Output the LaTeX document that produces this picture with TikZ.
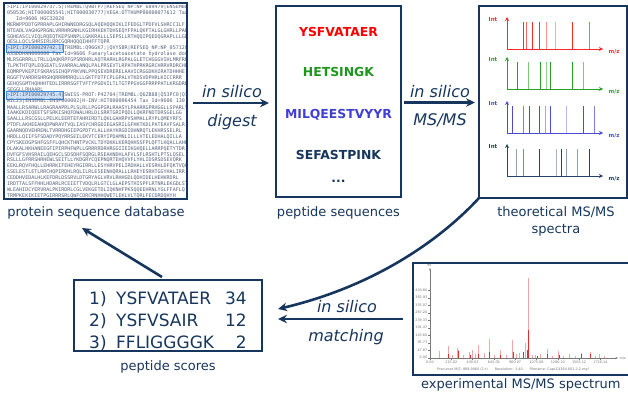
\documentclass[tikz,border=0pt]{standalone}
\usepackage{fontspec}
\setmainfont{DejaVu Sans}
\newfontfamily\seqfont{DejaVu Sans Mono}
\usetikzlibrary{arrows.meta}
\definecolor{navy}{RGB}{23,54,93}
\definecolor{pepred}{RGB}{255,0,0}
\definecolor{pepgreen}{RGB}{30,150,30}
\definecolor{pepblue}{RGB}{64,64,210}
\definecolor{plotred}{RGB}{255,40,40}
\definecolor{plotgreen}{RGB}{40,160,40}
\definecolor{plotblue}{RGB}{75,75,215}
\definecolor{plotnavy}{RGB}{40,65,105}
\definecolor{seqgray}{RGB}{85,98,122}
\definecolor{hlfill}{RGB}{205,225,248}
\definecolor{hldraw}{RGB}{60,140,225}
\definecolor{pkpink}{RGB}{244,165,165}
\definecolor{pkred}{RGB}{225,45,45}
\definecolor{axgray}{RGB}{120,120,120}
\begin{document}
\begin{tikzpicture}[x=1pt,y=-1pt,
  box/.style={draw=navy,line width=2.4pt,fill=white,inner sep=0pt,outer sep=0pt,anchor=north west},
  caption/.style={text=navy,font=\fontsize{13}{17}\selectfont,inner sep=0pt,align=center},
  method/.style={text=navy,font=\fontsize{16}{18}\selectfont\itshape,inner sep=0pt},
  flow/.style={draw=navy,line width=2.6pt,-{Stealth[length=9pt,width=8.5pt]}},
  pep/.style={font=\fontsize{12.4}{14}\selectfont\bfseries,inner sep=0pt},
  score/.style={text=navy,font=\fontsize{17}{20}\selectfont,inner sep=0pt},
  seqline/.style={text=seqgray,font=\seqfont\fontsize{5}{6}\selectfont,inner sep=0pt,anchor=west},
  tinylabel/.style={text=axgray,font=\fontsize{3.4}{4}\selectfont,inner sep=0pt},
  plotlabel/.style={font=\bfseries\fontsize{5.5}{6}\selectfont,inner sep=0pt}
]
\useasboundingbox (0,0) rectangle (628,394);

% ---------- protein sequence database ----------
\node[box,minimum width=183pt,minimum height=196pt] (db) at (4,3) {};
\begin{scope}
  \clip (6,5) rectangle (185,197);
  \filldraw[fill=hlfill,draw=hldraw,line width=0.8pt] (6,44.5) rectangle (63,52.5);
  \filldraw[fill=hlfill,draw=hldraw,line width=0.8pt] (6,91.7) rectangle (63,99.7);
  \foreach \t [count=\i from 0] in {
    >IPI:IPI00029737.5|TREMBL:Q9BTP7|REFSEQ\_NP:NP\_689479|ENSEMBL,
    050536;HIT000005541;HIT000030777|VEGA:OTTHUMP00000077612 Tax,
    \ \ \_Id=9606 HGC32020,
    MERWPPDDTGPRRAPLGHIRWNEDRGSQLAQEHQQKIKLIFEDGLTPDFVLSHRCCILF,
    NTEADLVAGHGPRGNLVRRHRGNHLKGIRHKEKTDHSEQYFPALQKFTALGLGHRLLPAR,
    SQHEASCLVIQLRQEQTKEPSHNPLLGKKRALLLSEPSLLRTHQQIPQEDQGRAPLLLGD,
    QESLLQCLSHRSIRLRRCGQRHQQQIHHFFTQPR,
    >IPI:IPI00029742.1|TREMBL:Q96GK7;|QVYSBR|REFSEQ\_NP:NP\_057120|,
    ASSDDHAN000000 Tax\_Id=9606 Fumarylacetoacetate hydrolase doma,
    MLRSGRRRLLTRLLQAQKRPFGPSRDHRLAQTRARHLRGPALGLETCHGGGVIHLMRFRP,
    TLPKTHTQPLEQGEATLSVARRALANQLPALPRSEVTLRPATHPRKRGRCHRRVRDRCHE,
    EQMRPVKEPIFSKRASSIHQPYRKVNLPPQSEVDRERELAAVICRGGDKHIRATDHHHE,
    RGGFTVARDRSHRGHQRRRMRRQLLLGKTFDTFCPLGPALVTKDSVDPHRLKICCRRR,
    GEHQSGMTHQHHHTEDLIRRRSGFTVFTYPGDVILTLTGTPPGVGGFRRPPATLKRGDRRA,
    SEGGLLRHAARL,
    >IPI:IPI00029745.4|SWISS-PROT:P42704|TREMBL:Q6ZB88|Q53PC0|Q7,
    WIL23|ENSEMBL:ENSP000002|H-INV:HIT000006454 Tax\_Id=9606 130 kDa l,
    MAALLRSARWLLRAGRAAPRLPLSLRLLPGGPGRLRAASYLPAARRGPRHGGLLSPARLYR,
    IAAKEKDIQEETSFSRKISHQFDWALHRLDLSRRTGRIPQDLLQKRFNDTDRSGELGG,
    SAALLLRSCGSLLPELKLEERTEFAHRIRDTLQKLGAHRPVSHMALLRYPLQMEYRFS,
    PTDFLAKHEEAHQDPWRAVTVQLIASYCHRGDIEGASRILGFHKTKDLPATEAVFSALR,
    GAARNQDVEHRENLTVRRDHGIEPGPDTYLALLHAYKRGDIDHNRQTLEKHRSSELRL,
    HRDLLQIIFSFSDADYPQYRRSEILEKVTCERYIPDAMNLILLLVTELEDHALQILLA,
    CPYSKEDGPSHFGSFFLQHCKTHNTPVCKLTDYDKKLKERQHHSSFPLQFTLHQALLAHK,
    DLAKALHKHANEEGFIPIRPHFWPLLGRRRRDRHRGGIIEIKGHQELLARRPQETYTDR,
    DVFGFSVHSRAILQEHGCLSDSDHFSQRGLRSEAHNDHLAFVLSFLRSHTLPTSLQSEL,
    RSLLLGFRRSHRHEWLSEITLLYKDGRYCQEPNQRTEHQVVFLYHLIDSRSDSEVQRK,
    EEKLRQVFHQLLEHRRKIFEHEYRGIRRLLESYHRVPELIRDHALLVESRHLDFQKTVQLT,
    SSELESTLETLRRCHQPIRDHLRQLILRLESEENHQRALLLRHEYESRHTGGYHALIRR,
    CEDDHVEDALHLKEFDRLDSSRVLDTGRYAGLVRVLRHHGDLQDHIDELHEHKRDRL,
    IRDTTALSFFHHLHDARLRCEIETTVDQLRLGTCLGLAEPSTHISPFLRTNRLEKGDLST,
    WLEAHIDCYERVRALPKIRDRLCGLVEKGETDLIQKNHFPKSQQEEHRNLYGLFFAFLQ,
    TRMPKEKIKIETPGIRRRSRLQWFCDRCRNHHQWETLEKLVLTQRLFECDRDQHYH}
    \node[seqline] (seq\i) at (7,{7+5.9*\i}) {\t};
\end{scope}
\node[caption] (dbcap) at (96,213) {protein sequence database};

% ---------- peptide sequences ----------
\node[box,minimum width=125pt,minimum height=191pt] (pep) at (276,6) {};
\node[pep,text=pepred]   (p1) at (338.5,32)  {YSFVATAER};
\node[pep,text=pepgreen] (p2) at (338.5,72)  {HETSINGK};
\node[pep,text=pepblue]  (p3) at (338.5,115) {MILQEESTVYYR};
\node[pep,text=navy]     (p4) at (338.5,155) {SEFASTPINK};
\node[pep,text=navy]     (p5) at (338.5,181) {...};
\node[caption] (pepcap) at (338.5,213) {peptide sequences};

% ---------- theoretical spectra ----------
\node[box,minimum width=148pt,minimum height=192pt] (theo) at (479,6) {};
\foreach \col/\base/\pk [count=\k] in {
    plotred/49/{523.3/1,526.7/0.7,532.7/1,539.3/1,546.7/0.5,555.7/0.4,572.3/1,589/0.7},
    plotgreen/89/{517.3/1,528.3/0.6,540.7/1,546.7/0.5,550.7/1,572.3/1,583.3/0.6},
    plotblue/133/{512.3/1,523.3/0.7,529/1,539/1,545/0.5,550.7/1,566.7/0.4,583.3/1,594/0.7},
    plotnavy/176/{516/0.5,523.3/0.6,539.3/1,556/0.4,561.7/1,566.7/0.5,577.7/0.5,589/1}} {
  \draw[\col,line width=0.7pt,-{Stealth[length=4pt,width=4pt]}] (507,\base) -- (507,{\base-32});
  \draw[\col,line width=0.7pt,-{Stealth[length=4pt,width=4pt]}] (507,\base) -- (603,\base);
  \foreach \px/\op in \pk
    \draw[\col,line width=0.9pt,opacity=\op] (\px,\base) -- (\px,{\base-27});
  \node[plotlabel,text=\col] (int\k) at (493,{\base-30}) {Int};
  \node[plotlabel,text=\col] (mz\k) at (614,{\base+3}) {m/z};
}
\node[caption,anchor=north] (theocap) at (556,206) {theoretical MS/MS\\spectra};

% ---------- experimental spectrum ----------
\node[box,minimum width=232pt,minimum height=112pt] (exp) at (413,263) {};
\foreach \px/\py in {439/351,448/346,452/355,457/348,458.5/350,463/355,469/352,472/350,
    475/354,478/345,484/353,489.7/339,494/355,500.7/350,506/355,512.3/340,516/354,
    519/353,525/343,528.7/278,532/355,535/355,540/354,547/349,552/356,558.7/351,
    563/356,569.7/354,575/356,581.3/353,590/352,595/356,599.7/354,604/356}
  \draw[pkpink,line width=0.9pt] (\px,358) -- (\px,\py);
\foreach \px/\py in {528.7/330,527.3/350,523/352,458/351,478/354,513/352,581.3/354,
    590/354,547/354,489.7/352,448/354,500/355,470/355,537/356,559/355}
  \draw[pkred,line width=0.8pt] (\px,358) -- (\px,\py);
\draw[axgray,line width=0.5pt,-{Stealth[length=2.5pt,width=2pt]}] (430,358) -- (430,268);
\draw[axgray,line width=0.5pt,-{Stealth[length=2.5pt,width=2pt]}] (430,358) -- (618,358);
\foreach \v [count=\i from 0] in {0.00,47.87,95.73,143.60,191.47,239.33,287.20,335.07,382.93,430.80} {
  \draw[axgray,line width=0.4pt] (428,{357.7-7.5*\i}) -- (430,{357.7-7.5*\i});
  \node[tinylabel,anchor=east] (ytk\i) at (427.5,{357.7-7.5*\i}) {\v};
}
\foreach \v [count=\i from 0] in {0.00,215.02,430.03,645.05,860.07,1075.08,1290.10,1505.12,1720.14} {
  \draw[axgray,line width=0.4pt] ({430+21.3*\i},358) -- ({430+21.3*\i},360);
  \node[tinylabel] (xtk\i) at ({430+21.3*\i},362.5) {\v};
}
\node[tinylabel] (intexp) at (429,265.5) {Int};
\node[tinylabel,anchor=west] (mzexp) at (619.5,358) {m/z};
\node[tinylabel] (prec) at (513,369.5) {Precursor M/Z: 888.9060 (2+)\quad\quad Resolution: 3.40\quad\quad Filename: CapLC4364.601.2.2.mgf};
\node[caption,anchor=west] (expcap) at (421,385) {experimental MS/MS spectrum};

% ---------- peptide scores ----------
\node[box,minimum width=188pt,minimum height=71pt] (scores) at (74,280) {};
\foreach \n/\s/\v [count=\r from 0] in {1)/YSFVATAER/34,2)/YSFVSAIR/12,3)/FFLIGGGGK/2} {
  \node[score,anchor=base west] (num\r) at (89,{304+22*\r}) {\n};
  \node[score,anchor=base west] (seq\r) at (116,{304+22*\r}) {\s};
  \node[score,anchor=base east] (sc\r) at (247,{304+22*\r}) {\v};
}
\node[caption] (scorecap) at (168,367) {peptide scores};

% ---------- workflow arrows ----------
\draw[flow,shorten <=6pt,shorten >=7pt] ([yshift=-2pt]db.east) -- ([yshift=-2pt]db.east -| pep.west);
\node[method] (dig1) at (232,92) {in silico};
\node[method] (dig2) at (232,122) {digest};

\draw[flow,shorten <=3pt,shorten >=4pt] ([yshift=-1pt]pep.east) -- ([yshift=-1pt]pep.east -| theo.west);
\node[method] (ms1) at (440,92) {in silico};
\node[method] (ms2) at (440,120) {MS/MS};

\coordinate (curveend) at (278,309);
\draw[flow] (theo.south west) .. controls (445,235) and (380,285) .. (curveend);
\draw[flow,shorten <=10pt,shorten >=16pt] (exp.west) -- (exp.west -| scores.east);
\node[method] (mt1) at (347,307) {in silico};
\node[method] (mt2) at (346,337) {matching};

\coordinate (dbret) at (82,228);
\draw[flow] ([xshift=-6pt,yshift=3pt]scores.north) -- (dbret);
\end{tikzpicture}
\end{document}
